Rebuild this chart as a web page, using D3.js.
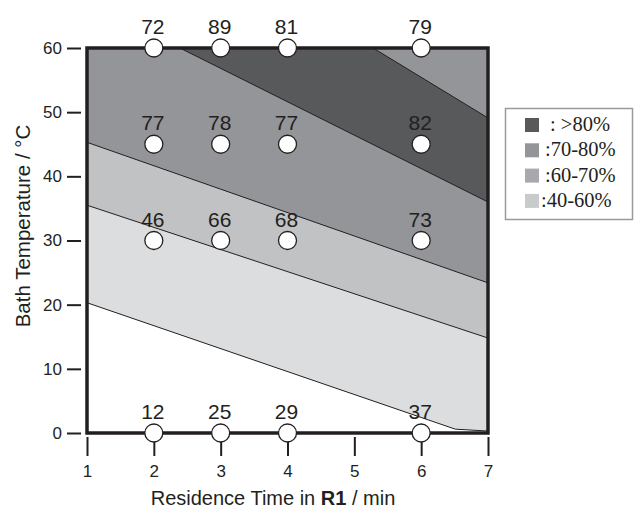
<!DOCTYPE html>
<meta charset="utf-8">
<style>
body { margin: 0; background: #fff; }
svg { display: block; }
.tick text { font-family: 'Liberation Sans', Arial, sans-serif; font-size: 17px; fill: #231f20; }
.tick line { stroke: #231f20; stroke-width: 2px; }
.ptlabel { font-family: 'Liberation Sans', Arial, sans-serif; font-size: 21px; fill: #231f20; text-anchor: middle; }
.title { font-family: 'Liberation Sans', Arial, sans-serif; fill: #231f20; text-anchor: middle; }
.legend text { font-family: 'Liberation Serif', 'Times New Roman', serif; font-size: 20.5px; fill: #231f20; }
</style>
<body>
<svg width="634" height="508"></svg>
<script src="https://d3js.org/d3.v7.min.js"></script>
<script>

// measured grid
var times = [2, 3, 4, 6];
var temps = [60, 45, 30, 0];
var yields = [
    [72, 89, 81, 79],
    [77, 78, 77, 82],
    [46, 66, 68, 73],
    [12, 25, 29, 37]
];

// contour boundaries [time, temp]
var edge40 = [[1, 20.3], [6.51, 0.6], [7, 0.3]];
var edge60 = [[1, 35.5], [7, 14.8]];
var edge70 = [[1, 45.3], [7, 23.4]];
var edge80 = [[2.39, 60], [7, 36.0]];
var edge80top = [[5.28, 60], [7, 49.1]];

var xTicks = [1, 2, 3, 4, 5, 6, 7];
var yTicks = [0, 10, 20, 30, 40, 50, 60];

var legendLabels = [": >80%", ":70-80%", ":60-70%", ":40-60%"];
var legendColors = ["#58595b", "#939598", "#a7a9ac", "#c9cacc"];

var svg = d3.select("svg");

var x = d3.scaleLinear().domain([1, 7]).range([87, 488]);
var y = d3.scaleLinear().domain([0, 60]).range([433, 48]);

var line = d3.line()
    .x(function(d) { return x(d[0]); })
    .y(function(d) { return y(d[1]); });

// each band is painted as "everything above this edge", lowest first
function above(edge) {
    var pts = edge.slice();
    pts.push([7, 60]);
    if (edge[0][1] < 60) pts.push([1, 60]);
    return pts;
}

var bands = [
    { edge: edge40, fill: "#dcdddf" },
    { edge: edge60, fill: "#c1c2c4" },
    { edge: edge70, fill: "#939598" },
    { edge: edge80, fill: "#58595b" },
    { edge: edge80top, fill: "#939598" }
];

var g = svg.append("g");

g.selectAll("path.band")
    .data(bands)
    .enter().append("path")
    .attr("class", "band")
    .attr("d", function(d) { return line(above(d.edge)) + "Z"; })
    .attr("fill", function(d) { return d.fill; });

g.selectAll("path.edge")
    .data(bands)
    .enter().append("path")
    .attr("class", "edge")
    .attr("d", function(d) { return line(d.edge); })
    .attr("fill", "none")
    .attr("stroke", "#231f20")
    .attr("stroke-width", 1);

// frame
g.append("rect")
    .attr("x", x(1))
    .attr("y", y(60))
    .attr("width", x(7) - x(1))
    .attr("height", y(0) - y(60))
    .attr("fill", "none")
    .attr("stroke", "#231f20")
    .attr("stroke-width", 3.5);

// axes
var yAxis = svg.append("g")
    .attr("transform", "translate(81,0)")
    .call(d3.axisLeft(y).tickValues(yTicks).tickSize(14).tickPadding(5).tickFormat(d3.format("d")));
yAxis.select(".domain").remove();

var xAxis = svg.append("g")
    .attr("transform", "translate(0,437)")
    .call(d3.axisBottom(x).tickValues(xTicks).tickSize(19).tickPadding(9).tickFormat(d3.format("d")));
xAxis.select(".domain").remove();

// data points
var pts = [];
temps.forEach(function(t, i) {
    times.forEach(function(m, j) {
        pts.push({ time: m, temp: t, value: yields[i][j] });
    });
});

svg.selectAll("circle.pt")
    .data(pts)
    .enter().append("circle")
    .attr("class", "pt")
    .attr("cx", function(d) { return x(d.time); })
    .attr("cy", function(d) { return y(d.temp); })
    .attr("r", 9)
    .attr("fill", "#fff")
    .attr("stroke", "#231f20")
    .attr("stroke-width", 1.3);

svg.selectAll("text.ptlabel")
    .data(pts)
    .enter().append("text")
    .attr("class", "ptlabel")
    .attr("x", function(d) { return x(d.time) - 1; })
    .attr("y", function(d) { return y(d.temp) - 14; })
    .text(function(d) { return d.value; });

// titles
svg.append("text")
    .attr("class", "title")
    .attr("font-size", 20.5)
    .attr("transform", "translate(30,226) rotate(-90)")
    .text("Bath Temperature / °C");

var xt = svg.append("text")
    .attr("class", "title")
    .attr("font-size", 20)
    .attr("x", 273)
    .attr("y", 505);
xt.append("tspan").text("Residence Time in ");
xt.append("tspan").attr("font-weight", "bold").text("R1");
xt.append("tspan").text(" / min");

// legend
var lg = svg.append("g").attr("class", "legend");
lg.append("rect")
    .attr("x", 505.5)
    .attr("y", 108.5)
    .attr("width", 127)
    .attr("height", 111)
    .attr("fill", "#fff")
    .attr("stroke", "#9a9a9a")
    .attr("stroke-width", 1.5);

var row = lg.selectAll("g.row")
    .data(legendLabels)
    .enter().append("g")
    .attr("class", "row")
    .attr("transform", function(d, i) { return "translate(525," + (125 + i * 25.3) + ")"; });

row.append("rect")
    .attr("x", 0)
    .attr("y", -7)
    .attr("width", 14)
    .attr("height", 14)
    .attr("fill", function(d, i) { return legendColors[i]; });

row.append("text")
    .attr("x", function(d, i) { return [25, 20, 20, 16][i]; })
    .attr("y", 6)
    .text(function(d) { return d; });

</script>
</body>
